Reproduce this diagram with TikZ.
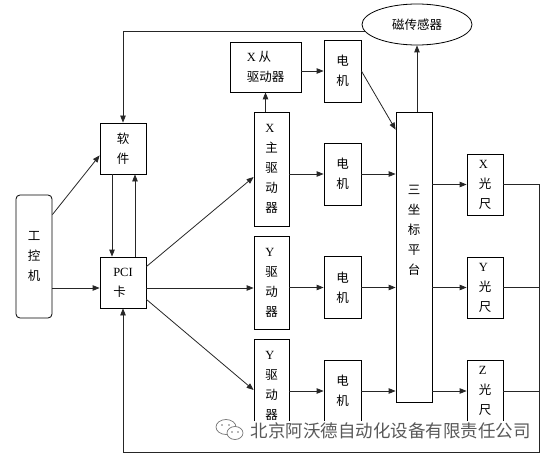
\documentclass[tikz,border=0pt]{standalone}
\usepackage{fontspec}
\setmainfont{Liberation Serif}
\newfontfamily\cjk{Noto Sans CJK SC}
\usetikzlibrary{arrows.meta, shapes, positioning, calc}
\newcommand{\lt}[1]{{\rmfamily #1}}

\begin{document}
\begin{tikzpicture}[x=1pt, y=-1pt,
		every node/.style = {align=left, inner sep=0pt,
			font=\cjk\fontsize{12.5}{20}\selectfont},
		box/.style = {draw, line width=0.8pt},
		arr/.style = {line width=0.8pt, draw=black!85,
			-{Triangle[length=7pt, width=5.5pt]}},
		ln/.style = {line width=0.8pt, draw=black!85}]
	\useasboundingbox (0,0) rectangle (552,460);
	% boxes
	\node[box, rounded corners=4pt, minimum width=36pt, minimum height=123pt] (gkj) at (34,256.5) {工\\控\\机};
	\node[box, align=center, minimum width=46pt, minimum height=51pt] (rj) at (123,148.5) {软\\件};
	\node[box, minimum width=46pt, minimum height=51pt] (pci) at (123,282.5) {\lt{PCI}\\卡};
	\node[box, minimum width=71pt, minimum height=50pt] (xc) at (265.5,67) {\lt{X} 从\\驱动器};
	\node[box, minimum width=35pt, minimum height=114pt] (xz) at (271.5,169) {\lt{X}\\主\\驱\\动\\器};
	\node[box, minimum width=35pt, minimum height=93pt] (yq1) at (271.5,282.5) {\lt{Y}\\驱\\动\\器};
	\node[box, minimum width=35pt, minimum height=93pt] (yq2) at (271.5,385.5) {\lt{Y}\\驱\\动\\器};
	\node[box, minimum width=37pt, minimum height=62pt] (dj1) at (342.5,71) {电\\机};
	\node[box, minimum width=37pt, minimum height=62pt] (dj2) at (342.5,174) {电\\机};
	\node[box, minimum width=37pt, minimum height=62pt] (dj3) at (342.5,287.5) {电\\机};
	\node[box, minimum width=37pt, minimum height=62pt] (dj4) at (342.5,391) {电\\机};
	\node[box, minimum width=36pt, minimum height=290pt] (pt) at (414,257) {};
	\node (ptt) at (414,230) {三\\坐\\标\\平\\台};
	\node[box, ellipse, minimum width=110pt, minimum height=41pt] (cgq) at (417,24.5) {磁传感器};
	\node[box, minimum width=36pt, minimum height=61pt] (gx) at (485,184.5) {\lt{X}\\光\\尺};
	\node[box, minimum width=36pt, minimum height=61pt] (gy) at (485,287.5) {\lt{Y}\\光\\尺};
	\node[box, minimum width=36pt, minimum height=61pt] (gz) at (485,391) {\lt{Z}\\光\\尺};
	\coordinate (rb) at (539,452);
	\coordinate (pin) at ([yshift=-5.5pt]pci.west);
	% connectors
	\draw[arr] ([yshift=-20pt]gkj.north east) -- ([yshift=19pt]rj.south west);
	\draw[arr] (gkj.east |- pin) -- (pin);
	\draw[arr] ([xshift=-11pt]rj.south) -- ([xshift=-11pt]pci.north);
	\draw[arr] ([xshift=12pt]pci.north) -- ([xshift=12pt]rj.south);
	\draw[arr] ([yshift=-10pt]pci.north east) -- ([yshift=-8pt]xz.west);
	\draw[arr] ([yshift=-5.5pt]pci.east) -- ([yshift=-5.5pt]yq1.west);
	\draw[arr] ([yshift=9pt]pci.south east) -- ([yshift=-4.5pt]yq2.west);
	\draw[arr] (xz.north -| xc.south) -- (xc.south);
	\draw[arr] (xc.east |- dj1.west) -- (dj1.west);
	\draw[arr] (dj1.east) -- ([yshift=-18pt]pt.north west);
	\draw[arr] (xz.east |- dj2.west) -- (dj2.west);
	\draw[arr] (dj2.east) -- (pt.west |- dj2.east);
	\draw[arr] (yq1.east |- dj3.west) -- (dj3.west);
	\draw[arr] (dj3.east) -- (pt.west |- dj3.east);
	\draw[arr] (yq2.east |- dj4.west) -- (dj4.west);
	\draw[arr] (dj4.east) -- (pt.west |- dj4.east);
	\draw[arr] (pt.east |- gx.west) -- (gx.west);
	\draw[arr] (pt.east |- gy.west) -- (gy.west);
	\draw[arr] (pt.east |- gz.west) -- (gz.west);
	\draw[arr] (pt.north -| cgq.south) -- (cgq.south);
	\draw[arr] (cgq.188) -- (rj.north |- cgq.188) -- (rj.north);
	\draw[ln] (gy.east) -- (rb |- gy.east);
	\draw[ln] (gz.east) -- (rb |- gz.east);
	\draw[arr] (gx.east) -- (rb |- gx.east) -- (rb) -- (pci.south |- rb) -- (pci.south);
	% watermark
	\fill[white] (205,421) rectangle (537,441);
	\node[text=black!65, font=\cjk\fontsize{17.5}{20}\selectfont] (wm) at (390.5,430.5) {北京阿沃德自动化设备有限责任公司};
	\draw[black!55, line width=0.7pt] (226,427) ellipse (10pt and 7.5pt);
	\draw[black!55, line width=0.7pt, fill=white] (235,433) ellipse (8pt and 6.5pt);
	\foreach \px/\py in {222/425, 229/425, 232/432, 238/432}
		\fill[black!55] (\px,\py) circle (0.9pt);
\end{tikzpicture}
\end{document}
